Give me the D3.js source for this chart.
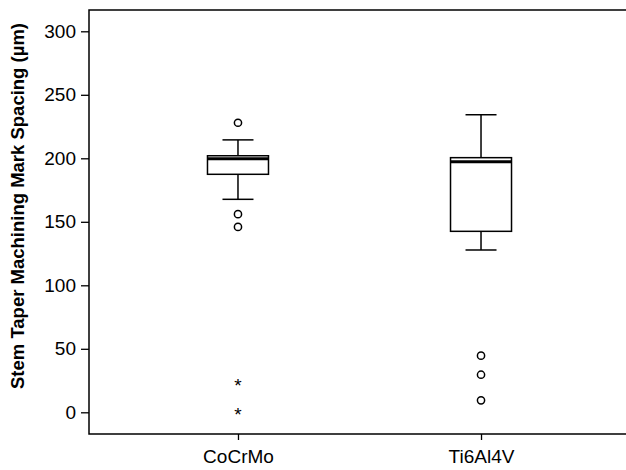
<!DOCTYPE html>
<html><head><meta charset="utf-8">
<script src="https://cdn.jsdelivr.net/npm/d3@7"></script>
<style>body{margin:0;background:#fff}svg{display:block}</style>
</head><body>
<svg id="chart" width="626" height="470"></svg>
<script>
const categories = ["CoCrMo", "Ti6Al4V"];
const whiskerLow  = [167.7, 127.8];
const q1          = [187.4, 142.5];
const median      = [199.7, 197.3];
const q3          = [202.0, 200.5];
const whiskerHigh = [214.5, 234.3];
const outliers    = [[228, 156, 146], [44.6, 29.6, 9.4]];
const extremes    = [[22.8, 0], []];
const yTicks = [0, 50, 100, 150, 200, 250, 300];
const yLabel = "Stem Taper Machining Mark Spacing (\u00b5m)";

const svg = d3.select("#chart");
const mLeft = 89, mTop = 10, mBottom = 434, mRight = 630;
const font = "Liberation Sans, Arial, sans-serif";

const y = d3.scaleLinear().domain([0, 300]).range([412.3, 31.3]);
const x = d3.scalePoint().domain(categories).range([mLeft, mRight]).padding(0.613);

// frame
svg.append("path").attr("d", `M${mRight},${mTop}H${mLeft}V${mBottom}H${mRight}`)
  .attr("fill", "none").attr("stroke", "#000").attr("stroke-width", 1.5);

// y axis
const ya = svg.append("g").attr("transform", `translate(${mLeft},0)`)
  .call(d3.axisLeft(y).tickValues(yTicks).tickSize(8).tickPadding(5));
ya.select(".domain").remove();
ya.selectAll("line").attr("stroke", "#000").attr("stroke-width", 1.3);
ya.selectAll("text").attr("font-family", font).attr("font-size", 19).attr("fill", "#000");

// x axis
const xa = svg.append("g").attr("transform", `translate(0,${mBottom})`)
  .call(d3.axisBottom(x).tickSize(6).tickPadding(10));
xa.select(".domain").remove();
xa.selectAll("line").attr("stroke", "#000").attr("stroke-width", 1.3);
xa.selectAll("text").attr("font-family", font).attr("font-size", 19).attr("fill", "#000");

// y label
svg.append("text").attr("transform", "translate(24,206) rotate(-90)")
  .attr("text-anchor", "middle").attr("font-family", font).attr("font-weight", "bold")
  .attr("font-size", 18.5).attr("fill", "#000").text(yLabel);

const boxW = 61, capW = 31;
categories.forEach((c, i) => {
  const cx = x(c);
  const g = svg.append("g").attr("stroke", "#000").attr("fill", "none").attr("stroke-width", 1.5);
  g.append("line").attr("x1", cx).attr("x2", cx).attr("y1", y(whiskerHigh[i])).attr("y2", y(q3[i]));
  g.append("line").attr("x1", cx).attr("x2", cx).attr("y1", y(q1[i])).attr("y2", y(whiskerLow[i]));
  g.append("line").attr("x1", cx - capW/2).attr("x2", cx + capW/2).attr("y1", y(whiskerHigh[i])).attr("y2", y(whiskerHigh[i]));
  g.append("line").attr("x1", cx - capW/2).attr("x2", cx + capW/2).attr("y1", y(whiskerLow[i])).attr("y2", y(whiskerLow[i]));
  g.append("rect").attr("x", cx - boxW/2).attr("width", boxW)
    .attr("y", y(q3[i])).attr("height", y(q1[i]) - y(q3[i])).attr("fill", "#fff");
  g.append("line").attr("x1", cx - boxW/2).attr("x2", cx + boxW/2).attr("y1", y(median[i])).attr("y2", y(median[i]))
    .attr("stroke-width", 3);
  outliers[i].forEach(v => {
    g.append("circle").attr("cx", cx).attr("cy", y(v)).attr("r", 3.6).attr("stroke-width", 1.5);
  });
  extremes[i].forEach(v => {
    svg.append("text").attr("x", cx).attr("y", y(v) + 9).attr("text-anchor", "middle")
      .attr("font-family", font).attr("font-size", 19).attr("fill", "#000").text("*");
  });
});
</script>
</body></html>
